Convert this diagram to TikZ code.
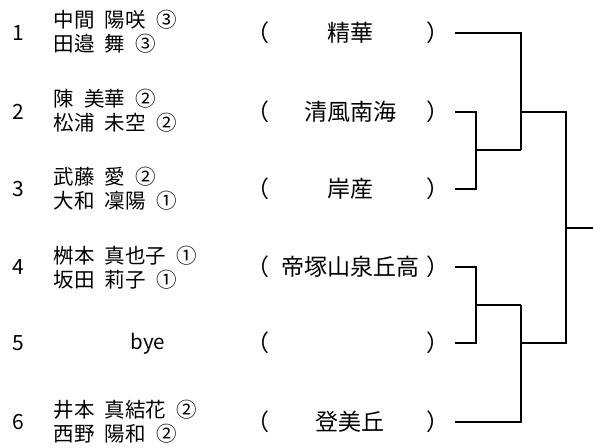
\documentclass[tikz,border=0pt]{standalone}
\usepackage{fontspec}
\setmainfont{Noto Sans CJK JP}
\usetikzlibrary{positioning}
\tikzstyle{num}=[inner sep=0pt,font=\fontsize{21}{21}\selectfont]
\tikzstyle{player}=[anchor=west,align=left,inner sep=0pt,font={\fontsize{20.5}{24}\selectfont\spaceskip=0.5em\relax}]
\tikzstyle{school}=[inner sep=0pt,font=\fontsize{23}{23}\selectfont]
\tikzset{every picture/.style={line width=1.3pt}}

\begin{document}
\begin{tikzpicture}
  [x=1pt,y=-1pt]
\useasboundingbox (0,0) rectangle (593,447);
% entry numbers
\node[num] (n1) at (18,33) {1};
\node[num] (n2) at (18,112) {2};
\node[num] (n3) at (18,189) {3};
\node[num] (n4) at (18,267) {4};
\node[num] (n5) at (18,343) {5};
\node[num] (n6) at (18,422) {6};
% pairs
\node[player] (p1) at (53,32) {中間 陽咲 ③\\田邉 舞 ③};
\node[player] (p2) at (53,111) {陳 美華 ②\\松浦 未空 ②};
\node[player] (p3) at (53,189) {武藤 愛 ②\\大和 凜陽 ①};
\node[player] (p4) at (53,268) {桝本 真也子 ①\\坂田 莉子 ①};
\node[player,anchor=center] (p5) at (148,344) {bye};
\node[player] (p6) at (53,422) {井本 真結花 ②\\西野 陽和 ②};
% schools
\node[school] (o1) at (258,33) {（};
\node[school] (o2) at (258,112) {（};
\node[school] (o3) at (258,189) {（};
\node[school] (o4) at (258,267) {（};
\node[school] (o5) at (258,343) {（};
\node[school] (o6) at (258,422) {（};
\node[school] (k1) at (350,33) {精華};
\node[school] (k2) at (350,112) {清風南海};
\node[school] (k3) at (350,189) {岸産};
\node[school] (k4) at (350,267) {帝塚山泉丘高};
\node[school] (k6) at (350,422) {登美丘};
\node[school] (c1) at (438,33) {）};
\node[school] (c2) at (438,112) {）};
\node[school] (c3) at (438,189) {）};
\node[school] (c4) at (438,267) {）};
\node[school] (c5) at (438,343) {）};
\node[school] (c6) at (438,422) {）};
% bracket
\coordinate (s1) at (455,33);
\coordinate (s2) at (455,112);
\coordinate (s3) at (455,189);
\coordinate (s4) at (455,267);
\coordinate (s5) at (455,343);
\coordinate (s6) at (455,422);
\coordinate (q23) at (476,150);
\coordinate (q45) at (476,305);
\coordinate (h23) at (521,150);
\coordinate (h45) at (521,305);
\coordinate (top) at (521,112);
\coordinate (bot) at (521,343);
\coordinate (v) at (566,228);
\coordinate (fin) at (593,228);
\draw (s2) -| (q23) |- (s3);
\draw (s4) -| (q45) |- (s5);
\draw (q23) -- (h23);
\draw (q45) -- (h45);
\draw (s1) -| (h23);
\draw (s6) -| (h45);
\draw (top) -| (v) |- (bot);
\draw (v) -- (fin);
\end{tikzpicture}
\end{document}
